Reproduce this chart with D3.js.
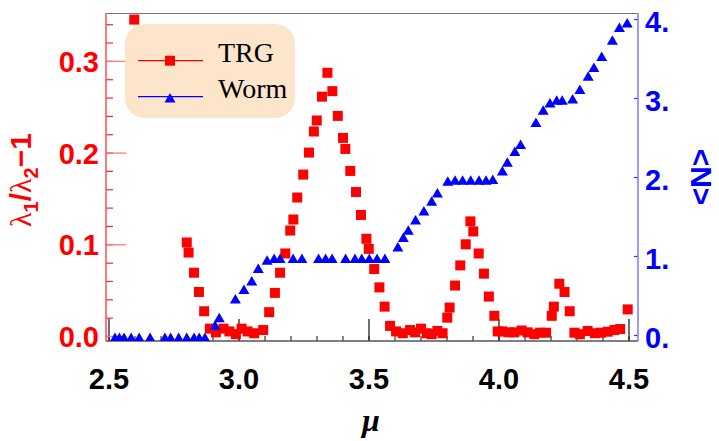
<!DOCTYPE html>
<html>
<head>
<meta charset="utf-8">
<script src="https://cdn.jsdelivr.net/npm/d3@7"></script>
<style>
body { margin: 0; background: #fff; }
svg { display: block; }
</style>
</head>
<body>
<div id="chart"></div>
<script>
// TRG: lambda1/lambda2 - 1 against mu
var trgMu = [2.599, 2.801, 2.808, 2.829, 2.848, 2.868, 2.890, 2.913, 2.942, 2.965, 2.990, 3.012, 3.035, 3.060, 3.095,
  3.118, 3.140, 3.160, 3.180, 3.199, 3.211, 3.226, 3.249, 3.271, 3.290, 3.301, 3.321, 3.342, 3.361, 3.382, 3.402,
  3.411, 3.430, 3.452, 3.471, 3.492, 3.501, 3.522, 3.542, 3.562, 3.583, 3.606, 3.632, 3.660, 3.679, 3.702, 3.724,
  3.743, 3.765, 3.785, 3.803, 3.812, 3.833, 3.853, 3.874, 3.892, 3.903, 3.924, 3.944, 3.963, 3.984, 3.997, 4.015,
  4.038, 4.061, 4.089, 4.112, 4.138, 4.160, 4.183, 4.205, 4.213, 4.234, 4.254, 4.274, 4.292, 4.313, 4.343, 4.371,
  4.394, 4.420, 4.446, 4.468, 4.497];
var trgVal = [0.345, 0.102, 0.091, 0.069, 0.048, 0.027, 0.008, 0.004, 0.008, 0.005, 0.002, 0.008, 0.005, 0.003, 0.0065,
  0.026, 0.047, 0.069, 0.090, 0.115, 0.127, 0.151, 0.176, 0.200, 0.223, 0.235, 0.261, 0.287, 0.267, 0.240, 0.216,
  0.204, 0.180, 0.157, 0.132, 0.106, 0.095, 0.073, 0.053, 0.032, 0.011, 0.005, 0.003, 0.0065, 0.004, 0.008, 0.003,
  0.002, 0.0055, 0.003, 0.020, 0.031, 0.055, 0.077, 0.100, 0.125, 0.114, 0.090, 0.068, 0.043, 0.022, 0.005, 0.005,
  0.004, 0.004, 0.006, 0.004, 0.002, 0.0036, 0.0036, 0.022, 0.032, 0.057, 0.048, 0.027, 0.0036, 0.002, 0.0055, 0.003,
  0.0036, 0.0047, 0.0065, 0.0076, 0.029];

// Worm: <N> against mu
var wormMu = [2.525, 2.542, 2.560, 2.587, 2.618, 2.660, 2.717, 2.739, 2.770, 2.801, 2.829, 2.849, 2.871,
  2.910, 2.926, 2.988, 3.021, 3.051, 3.076, 3.110, 3.137, 3.160, 3.210, 3.244, 3.308, 3.335, 3.360, 3.412,
  3.448, 3.474, 3.503, 3.533, 3.563, 3.613, 3.634, 3.653, 3.681, 3.713, 3.743, 3.765, 3.805, 3.833, 3.862,
  3.893, 3.925, 3.952, 3.978, 4.015, 4.034, 4.063, 4.085, 4.144, 4.172, 4.198, 4.224, 4.245, 4.285, 4.313,
  4.345, 4.367, 4.397, 4.438, 4.465, 4.495];
var wormN = [-0.03, -0.03, -0.03, -0.03, -0.03, -0.03, -0.03, -0.03, -0.03, -0.03, -0.03, -0.03, -0.03,
  0.127, 0.22, 0.46, 0.578, 0.687, 0.844, 0.95, 0.97, 0.97, 0.97, 0.97, 0.97, 0.97, 0.97, 0.97,
  0.97, 0.97, 0.97, 0.97, 0.97, 1.118, 1.237, 1.329, 1.46, 1.573, 1.696, 1.801, 1.949, 1.962, 1.962,
  1.962, 1.962, 1.962, 1.97, 2.08, 2.19, 2.325, 2.413, 2.693, 2.848, 2.94, 2.975, 2.975, 2.99, 3.11,
  3.278, 3.39, 3.53, 3.734, 3.895, 3.954];

var xTicks = [2.5, 3.0, 3.5, 4.0, 4.5];
var xTickLabels = ["2.5", "3.0", "3.5", "4.0", "4.5"];
var leftTicks = [0, 0.1, 0.2, 0.3];
var leftTickLabels = ["0.0", "0.1", "0.2", "0.3"];
var rightTicks = [0, 1, 2, 3, 4];
var rightTickLabels = ["0.", "1.", "2.", "3.", "4."];
var seriesNames = ["TRG", "Worm"];

var width = 719, height = 441;
var plotLeft = 106, plotRight = 638, plotTop = 13, plotBottom = 341;
var tickFont = "'Liberation Sans', Arial, sans-serif";

var x = d3.scaleLinear().domain([2.4904, 4.5366]).range([plotLeft, plotRight]);
var yL = d3.scaleLinear().domain([-0.00545, 0.3522]).range([plotBottom, plotTop]);
var yR = d3.scaleLinear().domain([-0.076, 4.076]).range([plotBottom, plotTop]);

var svg = d3.select("#chart")
  .append("svg")
  .attr("width", width)
  .attr("height", height);

svg.append("defs").append("clipPath")
  .attr("id", "plot-clip")
  .append("rect")
  .attr("x", plotLeft)
  .attr("y", plotTop)
  .attr("width", plotRight - plotLeft)
  .attr("height", plotBottom - plotTop);

// frame top
svg.append("line")
  .attr("x1", plotLeft).attr("x2", plotRight)
  .attr("y1", plotTop + 0.5).attr("y2", plotTop + 0.5)
  .attr("stroke", "#777").attr("stroke-width", 1.2);

// bottom axis: minor then major ticks, pointing inward
var minorX = d3.range(25, 46).map(function(d) { return d / 10; });
svg.append("g")
  .attr("transform", "translate(0," + plotBottom + ")")
  .call(d3.axisBottom(x).tickValues(minorX).tickSize(-5).tickFormat(""))
  .call(function(g) {
    g.select(".domain").remove();
    g.selectAll("line").attr("stroke", "#333").attr("stroke-width", 1.2);
  });

svg.append("g")
  .attr("transform", "translate(0," + plotBottom + ")")
  .call(d3.axisBottom(x).tickValues(xTicks).tickSize(-22).tickPadding(27)
    .tickFormat(function(d, i) { return xTickLabels[i]; }))
  .call(function(g) {
    g.select(".domain").remove();
    g.selectAll("line").attr("stroke", "#222").attr("stroke-width", 1.3);
    g.selectAll("text")
      .attr("fill", "#000")
      .style("font-family", tickFont)
      .style("font-weight", "bold")
      .style("font-size", "29px");
  });

svg.append("line")
  .attr("x1", plotLeft).attr("x2", plotRight)
  .attr("y1", plotBottom).attr("y2", plotBottom)
  .attr("stroke", "#555").attr("stroke-width", 1.5);

// left axis (red)
var minorL = d3.range(0, 36, 2).map(function(d) { return d / 100; });
svg.append("g")
  .attr("transform", "translate(" + plotLeft + ",0)")
  .call(d3.axisLeft(yL).tickValues(minorL).tickSize(-7).tickFormat(""))
  .call(function(g) {
    g.select(".domain").remove();
    g.selectAll("line").attr("stroke", "#f22").attr("stroke-width", 1.2);
  });

svg.append("g")
  .attr("transform", "translate(" + plotLeft + ",0)")
  .call(d3.axisLeft(yL).tickValues(leftTicks).tickSize(-20).tickPadding(7)
    .tickFormat(function(d, i) { return leftTickLabels[i]; }))
  .call(function(g) {
    g.select(".domain").remove();
    g.selectAll("line").attr("stroke", "#ff7a7a").attr("stroke-width", 1.3);
    g.selectAll("text")
      .attr("fill", "#f00")
      .attr("dy", "0.36em")
      .style("font-family", tickFont)
      .style("font-weight", "bold")
      .style("font-size", "29px");
  });

svg.append("line")
  .attr("x1", plotLeft).attr("x2", plotLeft)
  .attr("y1", plotTop).attr("y2", plotBottom)
  .attr("stroke", "#ff4d4d").attr("stroke-width", 1.5);

// right axis (blue)
svg.append("g")
  .attr("transform", "translate(" + plotRight + ",0)")
  .call(d3.axisRight(yR).tickValues(rightTicks).tickSize(-4).tickPadding(7)
    .tickFormat(function(d, i) { return rightTickLabels[i]; }))
  .call(function(g) {
    g.select(".domain").remove();
    g.selectAll("line").attr("stroke", "#33f").attr("stroke-width", 1.2);
    g.selectAll("text")
      .attr("fill", "#00f")
      .attr("dy", "0.42em")
      .style("font-family", tickFont)
      .style("font-weight", "bold")
      .style("font-size", "29px");
  });

svg.append("line")
  .attr("x1", plotRight).attr("x2", plotRight)
  .attr("y1", plotTop).attr("y2", plotBottom)
  .attr("stroke", "#7a7aff").attr("stroke-width", 1.5);

// markers
var sq = 10;
function triPath(cx, cy, w, h) {
  return "M" + cx + "," + (cy - h / 2) + "L" + (cx + w / 2) + "," + (cy + h / 2) + "L" + (cx - w / 2) + "," + (cy + h / 2) + "Z";
}

var gData = svg.append("g").attr("clip-path", "url(#plot-clip)");

gData.selectAll(".trg")
  .data(trgMu)
  .enter()
  .append("rect")
  .attr("class", "trg")
  .attr("x", function(d) { return x(d) - sq / 2; })
  .attr("y", function(d, i) { return yL(trgVal[i]) - sq / 2; })
  .attr("width", sq)
  .attr("height", sq)
  .attr("fill", "#f00");

gData.selectAll(".worm")
  .data(wormMu)
  .enter()
  .append("path")
  .attr("class", "worm")
  .attr("d", function(d, i) { return triPath(x(d), yR(wormN[i]), 11, 9.5); })
  .attr("fill", "#00f");

// axis titles
var leftTitle = svg.append("text")
  .attr("transform", "translate(31,180) rotate(-90)")
  .attr("text-anchor", "middle")
  .attr("fill", "#f00")
  .style("font-family", tickFont)
  .style("font-weight", "bold")
  .style("font-size", "30px");
leftTitle.append("tspan").style("font-family", "'Liberation Serif', serif").style("font-weight", "normal").text("λ");
leftTitle.append("tspan").attr("dy", 7).style("font-size", "20px").text("1");
leftTitle.append("tspan").attr("dy", -7).text("/");
leftTitle.append("tspan").style("font-family", "'Liberation Serif', serif").style("font-weight", "normal").text("λ");
leftTitle.append("tspan").attr("dy", 7).style("font-size", "20px").text("2");
leftTitle.append("tspan").attr("dy", -7).text("−1");

svg.append("text")
  .attr("transform", "translate(691,177) rotate(90)")
  .attr("text-anchor", "middle")
  .attr("fill", "#00f")
  .style("font-family", tickFont)
  .style("font-weight", "bold")
  .style("font-size", "30px")
  .text("<N>");

svg.append("text")
  .attr("x", 371)
  .attr("y", 431)
  .attr("text-anchor", "middle")
  .attr("fill", "#000")
  .style("font-family", "'Liberation Serif', serif")
  .style("font-style", "italic")
  .style("font-weight", "bold")
  .style("font-size", "32px")
  .text("μ");

// legend
var legend = svg.append("g").attr("class", "legend");
legend.append("rect")
  .attr("x", 125).attr("y", 24)
  .attr("width", 170).attr("height", 94)
  .attr("rx", 20).attr("ry", 20)
  .attr("fill", "#fde5cc");

var legendRows = legend.selectAll(".row")
  .data(seriesNames)
  .enter()
  .append("g")
  .attr("class", "row")
  .attr("transform", function(d, i) { return "translate(0," + (i === 0 ? 60.7 : 96.7) + ")"; });

legendRows.append("line")
  .attr("x1", 138).attr("x2", 203)
  .attr("stroke", function(d, i) { return i === 0 ? "#f00" : "#00f"; })
  .attr("stroke-width", 1.3);

legendRows.each(function(d, i) {
  var row = d3.select(this);
  if (i === 0) {
    row.append("rect").attr("x", 170 - sq / 2).attr("y", -sq / 2).attr("width", sq).attr("height", sq).attr("fill", "#f00");
  } else {
    row.append("path").attr("d", triPath(170, 1, 11, 9.5)).attr("fill", "#00f");
  }
});

legendRows.append("text")
  .attr("x", 218)
  .attr("y", 1)
  .attr("fill", "#000")
  .style("font-family", "'Liberation Serif', 'Times New Roman', serif")
  .style("font-size", "28px")
  .text(function(d) { return d; });
</script>
</body>
</html>
